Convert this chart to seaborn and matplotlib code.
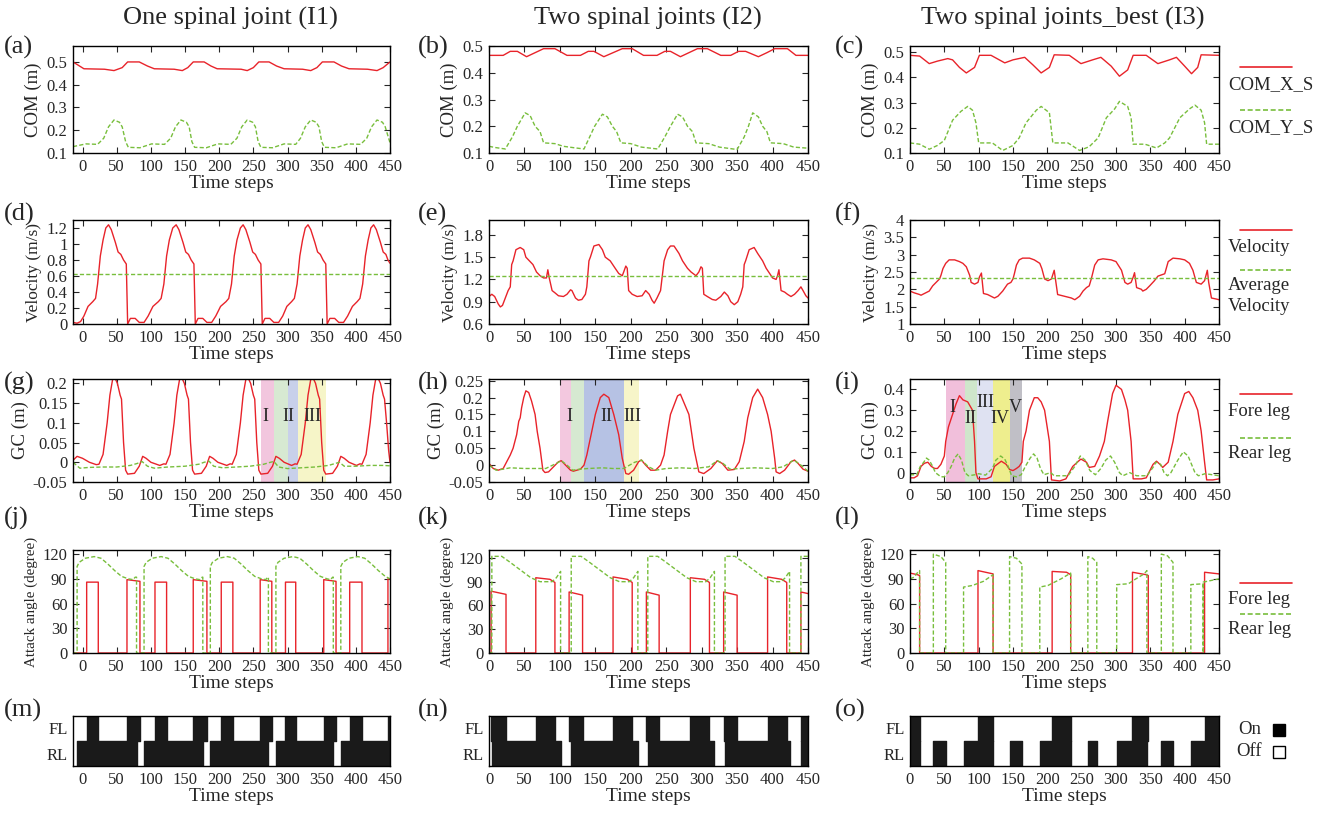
import matplotlib
matplotlib.use('Agg')
import matplotlib.pyplot as plt
from matplotlib.lines import Line2D
from matplotlib.ticker import FuncFormatter
import seaborn as sns

sns.set_style('ticks')
plt.rcParams['font.family'] = ['Liberation Serif', 'DejaVu Serif']

RED = '#e8232a'
GREEN = '#78be3c'
W, H = 1325, 819

# ---------------- data ----------------
# (a) COM, one spinal joint
a_t_x = [-14, 2, 32, 46, 58, 66, 83, 95, 105, 134, 146, 154, 162, 178, 188, 197, 232, 241, 250, 258,
         273, 284, 295, 322, 334, 343, 351, 368, 379, 390, 417, 431, 440, 450]
a_com_x = [0.5, 0.47, 0.468, 0.462, 0.475, 0.5,
           0.5, 0.482, 0.47, 0.468, 0.462, 0.475, 0.5,
           0.5, 0.482, 0.47, 0.468, 0.462, 0.475, 0.5,
           0.5, 0.482, 0.47, 0.468, 0.462, 0.475, 0.5,
           0.5, 0.482, 0.47, 0.468, 0.462, 0.475, 0.5]
a_t_y = [-14, 5, 22, 31, 38, 46, 54, 58, 63, 67, 84, 101, 120, 129, 136, 144, 152, 156, 160, 164, 181, 198, 217,
         226, 233, 241, 249, 253, 257, 261, 278, 295, 312, 319, 326, 334, 342, 346, 350, 354, 371, 388, 407,
         416, 423, 431, 439, 443, 450]
a_com_y = [0.128, 0.14, 0.138,
           0.165, 0.215, 0.245, 0.235, 0.215, 0.15, 0.125, 0.123, 0.14, 0.138,
           0.165, 0.215, 0.245, 0.235, 0.215, 0.15, 0.125, 0.123, 0.14, 0.138,
           0.165, 0.215, 0.245, 0.235, 0.215, 0.15, 0.125, 0.123, 0.14, 0.138,
           0.165, 0.215, 0.245, 0.235, 0.215, 0.15, 0.125, 0.123, 0.14, 0.138,
           0.165, 0.215, 0.245, 0.235, 0.215, 0.145]

# (b) COM, two spinal joints
b_t_x = [0, 20, 30, 40, 53, 65, 77, 93, 110, 129, 140, 148, 162, 175, 188, 202, 218, 237, 248, 256,
         270, 282, 294, 308, 327, 341, 352, 362, 380, 392, 403, 421, 433, 450]
b_com_x = [0.465, 0.465, 0.48, 0.48, 0.46, 0.475, 0.49, 0.49,
           0.465, 0.465, 0.48, 0.48, 0.46, 0.475, 0.49, 0.49,
           0.465, 0.465, 0.48, 0.48, 0.46, 0.475, 0.49, 0.49,
           0.465, 0.465, 0.48, 0.48, 0.46, 0.475, 0.49, 0.49,
           0.465, 0.465]
b_t_y = [0, 10, 23, 33, 40, 51, 58, 65, 72, 77, 93, 105, 119, 134, 142, 149, 160, 167, 174, 180,
         186, 200, 215, 238, 248, 256, 266, 273, 280, 287, 292, 310, 325, 350, 360, 366, 372, 380, 386, 392,
         397, 415, 430, 450]
b_com_y = [0.125, 0.12, 0.115, 0.16, 0.2, 0.25, 0.24, 0.2, 0.18, 0.138,
           0.135, 0.125, 0.12, 0.115, 0.16, 0.2, 0.245, 0.235, 0.2, 0.18,
           0.138, 0.135, 0.122, 0.115, 0.16, 0.2, 0.245, 0.235, 0.2, 0.18,
           0.138, 0.135, 0.122, 0.113, 0.16, 0.2, 0.25, 0.235, 0.2, 0.18,
           0.138, 0.135, 0.122, 0.118]

# (c) COM, two spinal joints best
c_t_x = [0, 14, 28, 40, 55, 62, 72, 82, 94, 101, 118, 138, 150, 167, 179, 191, 203, 210,
         232, 249, 266, 278, 293, 305, 317, 325, 344, 361, 378, 388, 400, 410, 419, 424, 450]
c_com_x = [0.488, 0.485, 0.455, 0.465, 0.475, 0.47, 0.44, 0.418, 0.44, 0.488,
           0.488, 0.458, 0.47, 0.48, 0.45, 0.418, 0.44, 0.49,
           0.488, 0.455, 0.47, 0.48, 0.445, 0.405, 0.43, 0.488,
           0.488, 0.455, 0.47, 0.48, 0.445, 0.415, 0.44, 0.49, 0.488]
c_t_y = [0, 14, 28, 40, 50, 62, 74, 84, 91, 96, 100, 120, 135, 150, 159, 169, 184, 191, 203, 208,
         230, 247, 261, 274, 286, 298, 305, 317, 322, 325, 342, 359, 371, 378, 393, 407, 415, 424, 429, 432, 450]
c_com_y = [0.14, 0.135, 0.115, 0.13, 0.15, 0.23, 0.265, 0.285, 0.27, 0.22, 0.14,
           0.14, 0.11, 0.13, 0.16, 0.22, 0.27, 0.285, 0.26, 0.14,
           0.14, 0.11, 0.125, 0.16, 0.24, 0.275, 0.305, 0.285, 0.24, 0.135,
           0.135, 0.12, 0.14, 0.16, 0.24, 0.275, 0.29, 0.27, 0.22, 0.135, 0.135]

# (d) velocity I1
d_t = [-14, -8, -3, 2, 8, 15, 19, 22, 26, 30, 34, 38, 42, 48, 52, 56, 60, 64, 66,
       70, 77, 83, 90, 96, 103, 111, 115, 119, 123, 127, 132, 137, 141, 147, 151, 155, 159, 163, 165,
       169, 176, 182, 189, 195, 202, 210, 214, 218, 222, 226, 231, 235, 239, 245, 249, 253, 257, 261, 263,
       267, 274, 280, 287, 293, 299, 306, 310, 314, 318, 322, 326, 330, 334, 340, 344, 348, 352, 356, 358,
       362, 369, 375, 382, 388, 395, 402, 406, 410, 414, 418, 422, 426, 430, 436, 440, 444, 447, 450]
d_vel = [0.02, 0.01, 0.03, 0.1, 0.22, 0.28, 0.32, 0.5, 0.85, 1.05, 1.2, 1.24, 1.18, 1.02, 0.9, 0.87, 0.8, 0.75, 0.0,
         0.07, 0.07, 0.02, 0.02, 0.1, 0.22, 0.28, 0.32, 0.5, 0.85, 1.05, 1.2, 1.24, 1.18, 1.02, 0.9, 0.87, 0.8, 0.75, 0.0,
         0.07, 0.07, 0.02, 0.02, 0.1, 0.22, 0.28, 0.32, 0.5, 0.85, 1.05, 1.2, 1.24, 1.18, 1.02, 0.9, 0.87, 0.8, 0.75, 0.0,
         0.07, 0.07, 0.02, 0.02, 0.1, 0.22, 0.28, 0.32, 0.5, 0.85, 1.05, 1.2, 1.24, 1.18, 1.02, 0.9, 0.87, 0.8, 0.75, 0.0,
         0.07, 0.07, 0.02, 0.02, 0.1, 0.22, 0.28, 0.32, 0.5, 0.85, 1.05, 1.2, 1.24, 1.18, 1.02, 0.9, 0.87, 0.8, 0.76]
d_avg = 0.62

# (e) velocity I2
e_t = [0, 4, 8, 13, 16, 19, 23, 27, 30, 32, 34, 38, 44, 49, 52, 57, 62, 67, 72, 77,
       81, 83, 85, 89, 93, 98, 105, 110, 115, 117, 122, 126, 131, 136, 138, 141, 143, 148, 155, 160,
       164, 171, 178, 183, 188, 190, 193, 195, 197, 202, 209, 216, 221, 226, 230, 233, 237, 242, 247, 252,
       256, 261, 268, 273, 280, 285, 292, 296, 299, 301, 303, 308, 315, 320, 327, 332, 337, 341, 346, 351,
       355, 358, 360, 362, 367, 374, 379, 386, 391, 398, 400, 405, 407, 409, 412, 417, 421, 426, 431, 436,
       440, 443, 447, 450]
e_vel = [0.97, 1.0, 0.97, 0.87, 0.83, 0.85, 0.95, 1.05, 1.1, 1.4, 1.45, 1.6, 1.63, 1.6, 1.5, 1.45, 1.4, 1.3, 1.25, 1.22,
         1.22, 1.33, 1.22, 1.05, 1.02, 0.98, 0.97, 1.0, 1.06, 1.05, 0.95, 0.92, 0.93, 1.0, 1.1, 1.45, 1.5, 1.65, 1.67, 1.6,
         1.5, 1.45, 1.35, 1.28, 1.25, 1.3, 1.38, 1.35, 1.05, 1.0, 0.97, 0.98, 1.05, 1.0, 0.92, 0.88, 0.95, 1.05, 1.45, 1.6,
         1.65, 1.65, 1.55, 1.45, 1.35, 1.3, 1.25, 1.3, 1.37, 1.35, 1.0, 0.97, 0.93, 0.92, 0.97, 1.03, 0.98, 0.9, 0.86, 0.9,
         1.0, 1.1, 1.4, 1.45, 1.6, 1.63, 1.55, 1.45, 1.35, 1.25, 1.22, 1.2, 1.25, 1.33, 1.05, 1.03, 1.0, 0.97, 1.0, 1.05,
         1.1, 1.05, 0.98, 0.95]
e_avg = 1.24

# (f) velocity I3
f_t = [0, 6, 14, 16, 23, 28, 33, 38, 43, 45, 48, 52, 57, 65, 72, 77, 82, 87, 89, 94,
       99, 101, 104, 107, 113, 118, 123, 128, 135, 142, 147, 150, 152, 155, 159, 164, 174, 181, 189, 192,
       196, 201, 206, 210, 215, 225, 235, 240, 247, 252, 257, 261, 264, 269, 274, 281, 293, 300, 308, 313,
       317, 322, 325, 327, 330, 337, 339, 344, 349, 356, 361, 371, 376, 383, 393, 400, 407, 412, 417, 424,
       429, 433, 435, 439, 446, 450]
f_vel = [1.95, 1.9, 1.85, 1.83, 1.9, 1.95, 2.1, 2.2, 2.3, 2.4, 2.6, 2.75, 2.85, 2.85, 2.8, 2.75, 2.65, 2.4, 2.2, 2.15,
         2.2, 2.35, 2.47, 1.88, 1.85, 1.8, 1.75, 1.8, 1.95, 2.15, 2.2, 2.3, 2.45, 2.7, 2.85, 2.9, 2.9, 2.85, 2.75, 2.6,
         2.3, 2.25, 2.3, 2.55, 1.85, 1.8, 1.75, 1.7, 1.8, 1.95, 2.05, 2.1, 2.3, 2.7, 2.85, 2.88, 2.85, 2.8, 2.55, 2.2,
         2.15, 2.2, 2.35, 2.48, 2.05, 2.0, 1.95, 2.0, 2.1, 2.25, 2.38, 2.45, 2.8, 2.9, 2.88, 2.85, 2.75, 2.55, 2.2, 2.15,
         2.25, 2.55, 2.2, 1.75, 1.72, 1.7]
f_avg = 2.33

# (g) GC I1
g_t_fore = [-14, -8, 0, 10, 20,
            24, 30, 36, 40, 44, 47, 51, 55, 57, 60, 63, 66, 76, 83, 88, 93, 100, 113, 119,
            122, 128, 134, 138, 142, 145, 149, 153, 155, 158, 161, 164, 174, 181, 186, 191, 198, 211, 216,
            219, 225, 231, 235, 239, 242, 246, 250, 252, 255, 258, 261, 271, 278, 283, 288, 295, 306, 311,
            314, 320, 326, 330, 334, 337, 341, 345, 347, 350, 353, 356, 366, 373, 378, 383, 390, 401, 406,
            409, 415, 421, 425, 429, 432, 436, 440, 442, 445, 448, 450]
g_fore = [0.005, 0.015, 0.01, 0.0, -0.006,
          -0.005, 0.02, 0.1, 0.17, 0.21, 0.215, 0.2, 0.17, 0.16, 0.05, -0.02, -0.03, -0.028, -0.01, 0.015, 0.01, 0.0, -0.008, -0.004,
          -0.005, 0.02, 0.1, 0.17, 0.21, 0.215, 0.2, 0.17, 0.16, 0.05, -0.02, -0.03, -0.028, -0.01, 0.015, 0.01, 0.0, -0.008, -0.004,
          -0.005, 0.02, 0.1, 0.17, 0.21, 0.215, 0.2, 0.17, 0.16, 0.05, -0.02, -0.03, -0.028, -0.01, 0.015, 0.01, 0.0, -0.008, -0.004,
          -0.005, 0.02, 0.1, 0.17, 0.21, 0.215, 0.2, 0.17, 0.16, 0.05, -0.02, -0.03, -0.028, -0.01, 0.015, 0.01, 0.0, -0.008, -0.004,
          -0.005, 0.02, 0.1, 0.17, 0.21, 0.215, 0.2, 0.17, 0.16, 0.1, 0.03, 0.0]
g_t_rear = [-14, -4, 10, 30, 50, 70, 80, 87, 95, 105, 125, 150, 170, 178, 185, 192, 205, 225, 245, 265,
            275, 280, 287, 300, 320, 340, 360, 370, 376, 383, 400, 420, 440, 450]
g_rear = [0.0, -0.015, -0.013, -0.012, -0.012, -0.008, -0.003, 0.002, -0.01, -0.015,
          -0.012, -0.01, -0.005, 0.0, 0.003, -0.01, -0.014, -0.012, -0.01, -0.005,
          0.0, 0.002, -0.012, -0.016, -0.014, -0.012, -0.008, -0.003, 0.0, -0.01,
          -0.01, -0.008, -0.008, -0.009]
g_spans = [(261, 280), (280, 300), (300, 316), (316, 356)]
g_span_colors = ['#f2c6de', '#d7e9d2', '#c8d0ea', '#f6f5c8']
g_marks = [(268, 0.115, 'I'), (302, 0.115, 'II'), (336, 0.115, 'III')]

# (h) GC I2
h_t_fore = [0, 6, 13, 20, 25, 30, 34, 39, 42, 44, 46, 49, 52, 56, 60, 65, 68, 72, 76, 79,
            84, 91, 98, 102, 108, 115, 119, 129, 134, 138, 145, 150, 157, 162, 169, 176, 183, 188, 193, 197,
            204, 211, 215, 221, 228, 235, 242, 247, 252, 256, 266, 270, 278, 282, 289, 296, 303, 313, 322, 329,
            337, 346, 353, 360, 365, 372, 379, 386, 393, 398, 403, 405, 410, 417, 426, 431, 436, 443, 450]
h_fore = [0.005, -0.01, -0.015, -0.01, 0.01, 0.03, 0.05, 0.09, 0.13, 0.14,
          0.17, 0.2, 0.22, 0.215, 0.19, 0.15, 0.1, 0.05, -0.015, -0.022,
          -0.02, -0.005, 0.01, 0.013, 0.0, -0.015, -0.018, -0.012, 0.0, 0.03,
          0.1, 0.15, 0.2, 0.21, 0.2, 0.15, 0.09, 0.02, -0.025, -0.027,
          -0.015, 0.01, 0.015, 0.0, -0.015, -0.015, 0.0, 0.03, 0.1, 0.15,
          0.205, 0.21, 0.17, 0.15, 0.05, -0.02, -0.025, -0.01, 0.013, 0.005,
          -0.015, -0.013, 0.01, 0.07, 0.14, 0.2, 0.225, 0.2, 0.15, 0.1,
          0.02, -0.02, -0.025, -0.015, 0.01, 0.015, 0.005, -0.012, -0.018]
h_t_rear = [0, 10, 20, 30, 50, 80, 95, 102, 110, 118, 128, 140, 160, 175, 190, 205, 215, 225, 235, 250,
            270, 290, 310, 322, 330, 340, 355, 375, 400, 415, 430, 440, 450]
h_rear = [0.0, -0.015, -0.012, -0.008, -0.01, -0.01, 0.005, 0.013, 0.0, -0.015,
          -0.012, -0.01, -0.008, -0.01, -0.01, 0.008, 0.015, -0.005, -0.015, -0.01,
          -0.008, -0.01, -0.005, 0.013, 0.005, -0.012, -0.01, -0.008, -0.01, -0.005,
          0.015, 0.0, -0.018]
h_spans = [(100, 116), (116, 134), (134, 191), (191, 212)]
h_span_colors = ['#f3c8df', '#d6e9d1', '#b6c2e4', '#f7f5c9']
h_marks = [(113, 0.145, 'I'), (165, 0.145, 'II'), (202, 0.145, 'III')]

# (i) GC I3
i_t_fore = [0, 6, 11, 16, 21, 26, 31, 36, 40, 45, 50, 52, 56, 62, 67, 72, 77, 84, 91, 94,
            96, 99, 111, 118, 123, 133, 140, 145, 150, 155, 159, 163, 165, 169, 174, 181, 186, 191, 196, 203,
            206, 218, 227, 237, 247, 249, 257, 261, 269, 276, 283, 288, 295, 300, 308, 313, 317, 322, 325, 337,
            344, 354, 359, 364, 368, 376, 383, 390, 400, 406, 412, 419, 424, 429, 432, 441, 450]
i_fore = [-0.025, -0.025, -0.015, 0.03, 0.045, 0.05, 0.03, 0.02, 0.02, 0.04,
          0.08, 0.15, 0.22, 0.28, 0.33, 0.37, 0.35, 0.34, 0.3, 0.15,
          0.0, -0.03, -0.03, -0.02, 0.03, 0.055, 0.04, 0.015, 0.01, 0.02,
          0.03, 0.05, 0.15, 0.2, 0.3, 0.36, 0.36, 0.34, 0.3, 0.15,
          -0.035, -0.04, -0.03, 0.03, 0.06, 0.065, 0.05, 0.025, 0.03, 0.08,
          0.15, 0.25, 0.38, 0.42, 0.4, 0.35, 0.3, 0.15, -0.03, -0.03,
          -0.025, 0.04, 0.055, 0.04, 0.025, 0.05, 0.15, 0.28, 0.38, 0.39,
          0.36, 0.3, 0.2, 0.05, -0.035, -0.035, -0.03]
i_t_rear = [0, 10, 15, 20, 24, 28, 33, 37, 45, 50, 55, 60, 65, 70, 75, 80, 85, 95, 100, 110,
            120, 125, 132, 138, 143, 148, 155, 162, 168, 175, 180, 185, 190, 195, 205, 210, 230, 240, 248, 255,
            262, 270, 278, 285, 292, 298, 305, 310, 320, 330, 345, 355, 358, 365, 370, 375, 380, 390, 398, 405,
            410, 415, 420, 430, 440, 450]
i_rear = [-0.01, -0.01, 0.03, 0.05, 0.07, 0.06, 0.03, 0.0, -0.02, -0.02,
          0.0, 0.03, 0.07, 0.09, 0.06, 0.0, -0.015, -0.01, -0.005, -0.012,
          0.02, 0.06, 0.08, 0.065, 0.03, -0.015, -0.02, -0.01, 0.03, 0.07,
          0.09, 0.07, 0.02, -0.01, 0.0, -0.015, -0.015, 0.03, 0.08, 0.06,
          0.01, -0.01, 0.02, 0.06, 0.08, 0.05, 0.0, -0.015, 0.0, -0.015,
          -0.015, 0.03, 0.05, 0.04, 0.0, -0.015, 0.0, 0.06, 0.1, 0.08,
          0.04, 0.0, -0.015, -0.005, -0.01, -0.015]
i_spans = [(52, 80), (80, 97), (97, 121), (121, 146), (146, 163)]
i_span_colors = ['#f1bfdb', '#cfe6cb', '#dfe2f2', '#eeee8e', '#c0bfc6']
i_marks = [(62, 0.315, 'I'), (88, 0.26, 'II'), (110, 0.335, 'III'), (131, 0.26, 'IV'), (154, 0.315, 'V')]

# (j) attack angle I1
j_t_fore = [-14, 6, 6, 23, 23, 65, 65, 84, 84, 106, 106, 123, 123, 162, 162, 182, 182, 203, 203, 220,
            220, 260, 260, 277, 277, 297, 297, 312, 312, 353, 353, 371, 371, 391, 391, 409, 409, 447, 447, 450]
j_fore = [0, 0, 86, 86, 0, 0, 89, 87, 0, 0, 86, 86, 0, 0, 89, 87, 0, 0, 86, 86,
          0, 0, 89, 87, 0, 0, 86, 86, 0, 0, 89, 87, 0, 0, 86, 86, 0, 0, 90, 90]
j_t_rear = [-14, -8, -8, -5, 4, 17, 27, 37, 47, 57, 67, 74, 77, 79, 79,
            90, 90, 93, 102, 115, 125, 135, 145, 155, 165, 172, 175, 176, 176,
            187, 187, 190, 199, 212, 222, 232, 242, 252, 262, 268, 271, 272, 272,
            283, 283, 286, 295, 308, 318, 328, 338, 348, 358, 363, 366, 367, 367,
            378, 378, 381, 390, 403, 413, 423, 433, 443, 450]
j_rear = [0, 0, 105, 110, 115, 117, 115, 108, 100, 93, 90, 89, 92, 92, 0,
          0, 105, 110, 115, 117, 115, 108, 100, 93, 90, 89, 92, 92, 0,
          0, 105, 110, 115, 117, 115, 108, 100, 93, 90, 89, 92, 92, 0,
          0, 105, 110, 115, 117, 115, 108, 100, 93, 90, 89, 92, 92, 0,
          0, 105, 110, 115, 117, 115, 108, 100, 93, 90]

# (k) attack angle I2
k_t_fore = [0, 3, 3, 24, 24, 66, 66, 86, 93, 93, 113, 113, 132, 132, 175, 175, 195, 202, 202,
            222, 222, 240, 240, 284, 284, 304, 311, 311, 331, 331, 350, 350, 393, 393, 413, 420, 420,
            440, 440, 450]
k_fore = [0, 0, 78, 74, 0, 0, 95, 93, 89, 0, 0, 77, 73, 0, 0, 96, 93, 89, 0,
          0, 77, 73, 0, 0, 95, 93, 89, 0, 0, 77, 73, 0, 0, 96, 93, 89, 0,
          0, 77, 75]
k_t_rear = [0, 4, 4, 18, 29, 44, 59, 72, 89, 95, 101, 101,
            116, 116, 130, 141, 156, 171, 184, 198, 204, 210, 210,
            224, 224, 238, 249, 264, 279, 292, 306, 312, 318, 318,
            333, 333, 347, 358, 373, 388, 401, 412, 418, 424, 424,
            440, 440, 450]
k_rear = [0, 0, 122, 122, 115, 105, 95, 90, 90, 95, 103, 0,
          0, 122, 122, 115, 105, 95, 90, 90, 95, 103, 0,
          0, 122, 122, 115, 105, 95, 90, 90, 95, 103, 0,
          0, 122, 122, 115, 105, 95, 90, 90, 95, 103, 0,
          0, 122, 122]

# (l) attack angle I3
l_t_fore = [0, 11, 14, 14, 99, 99, 121, 121, 207, 207, 228, 234, 234, 324, 324, 344, 347, 347, 429, 429, 450]
l_fore = [97, 95, 94, 0, 0, 100, 96, 0, 0, 99, 98, 95, 0, 0, 98, 95, 94, 0, 0, 98, 96]
l_t_rear = [0, 6, 13, 14, 14, 34, 34, 45, 52, 52, 78, 78, 91, 107, 121, 121,
            145, 145, 155, 163, 163, 189, 189, 201, 220, 234, 234, 259, 259, 266, 272, 272,
            301, 301, 318, 329, 341, 345, 345, 366, 366, 375, 383, 383, 409, 409, 427, 427, 427, 450]
l_rear = [90, 92, 100, 100, 0, 0, 120, 117, 110, 0, 0, 80, 82, 87, 95, 0,
          0, 117, 115, 108, 0, 0, 80, 82, 90, 97, 0, 0, 117, 115, 110, 0,
          0, 83, 84, 90, 96, 100, 0, 0, 120, 118, 110, 0, 0, 83, 84, 0, 86, 90]

# (m)(n)(o) gait diagrams: contact intervals (start, end) for fore / rear leg
m_fl = [(6, 23), (65, 84), (106, 123), (162, 182), (203, 220), (260, 277), (297, 312), (353, 371),
        (391, 409), (447, 450)]
m_rl = [(-8, 79), (90, 176), (187, 272), (283, 367), (378, 450)]
n_fl = [(3, 24), (66, 93), (113, 132), (175, 202), (222, 240), (284, 311), (331, 350), (393, 420), (440, 450)]
n_rl = [(4, 101), (116, 210), (224, 318), (333, 424), (440, 450)]
o_fl = [(0, 14), (99, 121), (207, 234), (324, 347), (429, 450)]
o_rl = [(0, 14), (34, 52), (78, 121), (145, 163), (189, 234), (259, 272), (301, 345), (366, 383),
        (409, 427), (428, 450)]

# ---------------- layout ----------------
col_x = [(73, 390), (489, 808), (910, 1219)]
row_y = [(46, 153), (220, 324), (379, 482), (550, 653), (716, 766)]
xlims = [(-14, 450), (0, 450), (0, 450)]


def rect(c, r):
    x0, x1 = col_x[c]
    y0, y1 = row_y[r]
    return [x0 / W, 1 - y1 / H, (x1 - x0) / W, (y1 - y0) / H]


def fp(x, y):
    return x / W, 1 - y / H


def curve(ax, t, v, color, dashed=False):
    sns.lineplot(x=t, y=v, ax=ax, color=color, linewidth=1.0,
                 linestyle=(0, (3, 1.6)) if dashed else '-',
                 estimator=None, sort=False, errorbar=None)


def style(ax, c, ylim, yticks, ylabel, ysize=13.5):
    ax.set_xlim(*xlims[c])
    ax.set_ylim(*ylim)
    ax.set_xticks(range(0, 451, 50))
    ax.set_yticks(yticks)
    ax.yaxis.set_major_formatter(FuncFormatter(lambda v, p: f'{v:g}'))
    ax.tick_params(direction='in', top=True, right=True, length=4, width=0.8,
                   labelsize=12, pad=4)
    for s in ax.spines.values():
        s.set_linewidth(1.0)
        s.set_color('black')
    ax.set_xlabel('Time steps', fontsize=14, labelpad=0)
    ax.set_ylabel(ylabel, fontsize=ysize, labelpad=3)


fig = plt.figure(figsize=(W / 100, H / 100), dpi=100)

# row 1: COM
com = [(a_t_x, a_com_x, a_t_y, a_com_y, (0.1, 0.57)),
       (b_t_x, b_com_x, b_t_y, b_com_y, (0.1, 0.5)),
       (c_t_x, c_com_x, c_t_y, c_com_y, (0.1, 0.525))]
for c, (tx, vx, ty, vy, yl) in enumerate(com):
    ax = fig.add_axes(rect(c, 0))
    curve(ax, tx, vx, RED)
    curve(ax, ty, vy, GREEN, dashed=True)
    style(ax, c, yl, [0.1, 0.2, 0.3, 0.4, 0.5], 'COM (m)')

# row 2: velocity
vel = [(d_t, d_vel, d_avg, (0, 1.3), [0, 0.2, 0.4, 0.6, 0.8, 1.0, 1.2]),
       (e_t, e_vel, e_avg, (0.6, 2.0), [0.6, 0.9, 1.2, 1.5, 1.8]),
       (f_t, f_vel, f_avg, (1, 4), [1, 1.5, 2, 2.5, 3, 3.5, 4])]
for c, (t, v, avg, yl, yt) in enumerate(vel):
    ax = fig.add_axes(rect(c, 1))
    curve(ax, t, v, RED)
    ax.axhline(avg, color=GREEN, lw=1.0, ls=(0, (3, 1.6)))
    style(ax, c, yl, yt, 'Velocity (m/s)', ysize=12.5)

# row 3: GC
gc = [(g_t_fore, g_fore, g_t_rear, g_rear, g_spans, g_span_colors, g_marks, (-0.05, 0.211),
       [-0.05, 0, 0.05, 0.1, 0.15, 0.2]),
      (h_t_fore, h_fore, h_t_rear, h_rear, h_spans, h_span_colors, h_marks, (-0.05, 0.255),
       [-0.05, 0, 0.05, 0.1, 0.15, 0.2, 0.25]),
      (i_t_fore, i_fore, i_t_rear, i_rear, i_spans, i_span_colors, i_marks, (-0.045, 0.45),
       [0, 0.1, 0.2, 0.3, 0.4])]
for c, (tf, vf, tr, vr, spans, cols, marks, yl, yt) in enumerate(gc):
    ax = fig.add_axes(rect(c, 2))
    for (s0, s1), col in zip(spans, cols):
        ax.axvspan(s0, s1, color=col, lw=0, zorder=0)
    curve(ax, tf, vf, RED)
    curve(ax, tr, vr, GREEN, dashed=True)
    for x, y, s in marks:
        ax.text(x, y, s, ha='center', va='center', fontsize=13)
    style(ax, c, yl, yt, 'GC (m)')

# row 4: attack angle
att = [(j_t_fore, j_fore, j_t_rear, j_rear, (0, 125)),
       (k_t_fore, k_fore, k_t_rear, k_rear, (0, 130)),
       (l_t_fore, l_fore, l_t_rear, l_rear, (0, 125))]
for c, (tf, vf, tr, vr, yl) in enumerate(att):
    ax = fig.add_axes(rect(c, 3))
    curve(ax, tf, vf, RED)
    curve(ax, tr, vr, GREEN, dashed=True)
    style(ax, c, yl, [0, 30, 60, 90, 120], 'Attack angle (degree)', ysize=10.8)

# row 5: gait
gait = [(m_fl, m_rl), (n_fl, n_rl), (o_fl, o_rl)]
for c, (fl, rl) in enumerate(gait):
    ax = fig.add_axes(rect(c, 4))
    ax.broken_barh([(s, e - s) for s, e in fl], (1, 1), color='#1a1a1a')
    ax.broken_barh([(s, e - s) for s, e in rl], (0, 1), color='#1a1a1a')
    ax.set_xlim(*xlims[c])
    ax.set_ylim(0, 2)
    ax.set_xticks(range(0, 451, 50))
    ax.set_yticks([0.5, 1.5])
    ax.set_yticklabels(['RL', 'FL'])
    ax.tick_params(length=0, labelsize=12, pad=4)
    for s in ax.spines.values():
        s.set_linewidth(1.0)
        s.set_color('black')
    ax.set_xlabel('Time steps', fontsize=14, labelpad=0)

# titles and panel letters
for x, s in [(230, 'One spinal joint (I1)'), (648, 'Two spinal joints (I2)'),
             (1063, 'Two spinal joints_best (I3)')]:
    fig.text(*fp(x, 18), s, ha='center', va='center', fontsize=19)

letters = 'abcdefghijklmno'
letter_x = [4, 418, 835]
letter_y = [47, 214, 383, 518, 710]
for r in range(5):
    for c in range(3):
        fig.text(*fp(letter_x[c], letter_y[r]), f'({letters[r * 3 + c]})',
                 ha='left', va='center', fontsize=19)

# right-hand legends
leg_rows = [(67, 'COM_X_S', 85, 110, 'COM_Y_S', 128),
            (230, 'Velocity', 248, 270, 'Average\nVelocity', 296),
            (394, 'Fore leg', 411, 438, 'Rear leg', 454),
            (583, 'Fore leg', 600, 614, 'Rear leg', 630)]
for ry, rlab, rty, gy, glab, gty in leg_rows:
    x0, y0 = fp(1240, ry)
    x1, _ = fp(1292, ry)
    fig.add_artist(Line2D([x0, x1], [y0, y0], color=RED, lw=1.2, transform=fig.transFigure))
    x0, y0 = fp(1240, gy)
    fig.add_artist(Line2D([x0, x1], [y0, y0], color=GREEN, lw=1.2, ls=(0, (3, 1.6)),
                          transform=fig.transFigure))
    fig.text(*fp(1228, rty), rlab, ha='left', va='center', fontsize=13.5)
    fig.text(*fp(1228, gty), glab, ha='left', va='center', fontsize=13.5, linespacing=1.25)

fig.text(*fp(1238, 730), 'On', ha='left', va='center', fontsize=13.5)
fig.text(*fp(1236, 752), 'Off', ha='left', va='center', fontsize=13.5)
fig.add_artist(Line2D([fp(1279, 730)[0]], [fp(1279, 730)[1]], marker='s', ms=9, color='black',
                      ls='none', transform=fig.transFigure))
fig.add_artist(Line2D([fp(1279, 752)[0]], [fp(1279, 752)[1]], marker='s', ms=9, mfc='white',
                      mec='black', mew=1.0, ls='none', transform=fig.transFigure))

fig.savefig('out.png', dpi=100)
